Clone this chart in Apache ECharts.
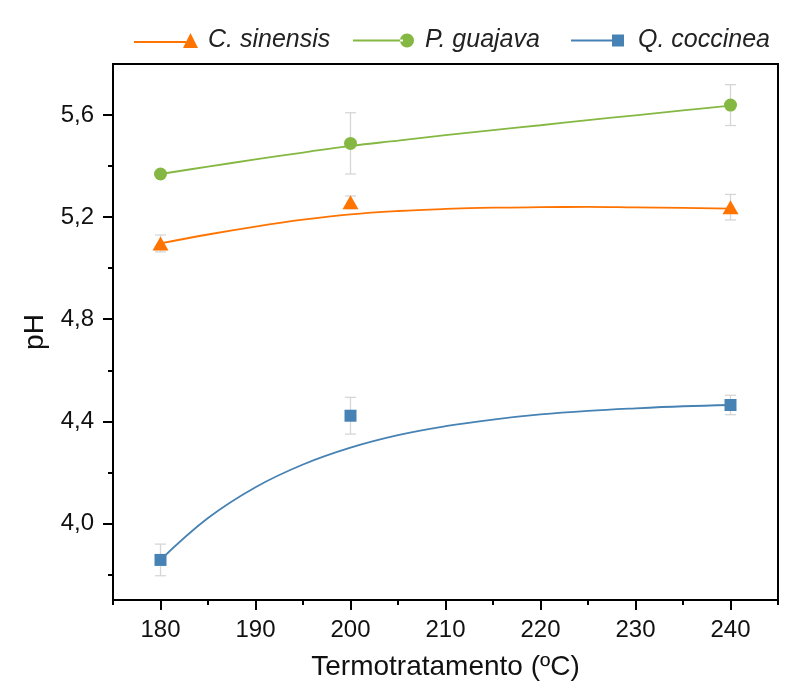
<!DOCTYPE html>
<html><head><meta charset="utf-8">
<script src="https://cdn.jsdelivr.net/npm/echarts@6/dist/echarts.min.js"></script>
<style>html,body{margin:0;padding:0;background:#fff}#c{width:791px;height:689px}</style>
</head><body><div id="c"></div>
<script>
// measured points
const temps = [180, 200, 240];
const sinensisPH = [5.097, 5.258, 5.239];
const sinensisErr = [0.033, 0.025, 0.05];
const guajavaPH = [5.369, 5.489, 5.639];
const guajavaErr = [0.008, 0.12, 0.08];
const coccineaPH = [3.857, 4.422, 4.464];
const coccineaErr = [0.062, 0.072, 0.038];
// fitted curves
const fitX = [180, 185, 190, 195, 200, 205, 210, 215, 220, 225, 230, 235, 240];
const sinensisFit = [5.097, 5.132, 5.163, 5.190, 5.211, 5.224, 5.232, 5.237, 5.239, 5.240, 5.238, 5.236, 5.233];
const guajavaFit = [5.369, 5.398, 5.426, 5.453, 5.479, 5.500, 5.521, 5.541, 5.560, 5.580, 5.599, 5.618, 5.637];
const coccineaFit = [3.857, 4.021, 4.142, 4.231, 4.297, 4.346, 4.381, 4.407, 4.427, 4.441, 4.451, 4.459, 4.464];
// ticks
const xMajorTicks = [180, 190, 200, 210, 220, 230, 240];
const xMinorTicks = [175, 185, 195, 205, 215, 225, 235, 245];
const yMajorTicks = [4.0, 4.4, 4.8, 5.2, 5.6];
const yMinorTicks = [3.8, 4.2, 4.6, 5.0, 5.4];
const names = ['C. sinensis', 'P. guajava', 'Q. coccinea'];
const colors = ['#ff7300', '#85b843', '#4682b4'];

const FONT = 'Liberation Sans, Arial, sans-serif';
const pair = (xs, ys) => xs.map((x, i) => [x, ys[i]]);
const triple = (xs, ys, es) => xs.map((x, i) => [x, ys[i], es[i]]);

function errRender(params, api) {
  const x = api.value(0), y = api.value(1), e = api.value(2);
  const t = api.coord([x, y + e]);
  const b = api.coord([x, y - e]);
  const hw = 5.5;
  const st = {stroke: '#d6d6d6', lineWidth: 1.3};
  return {type: 'group', children: [
    {type: 'line', shape: {x1: t[0], y1: t[1], x2: b[0], y2: b[1]}, style: st},
    {type: 'line', shape: {x1: t[0] - hw, y1: t[1], x2: t[0] + hw, y2: t[1]}, style: st},
    {type: 'line', shape: {x1: b[0] - hw, y1: b[1], x2: b[0] + hw, y2: b[1]}, style: st}
  ]};
}

const fits = [sinensisFit, guajavaFit, coccineaFit];
const pts = [sinensisPH, guajavaPH, coccineaPH];
const errs = [sinensisErr, guajavaErr, coccineaErr];
const symbols = ['triangle', 'circle', 'rect'];
const symSizes = [[16, 14], 13, 12];

const series = [];
for (let i = 0; i < 3; i++) {
  series.push({type: 'line', name: names[i], data: pair(fitX, fits[i]), smooth: 0.4, showSymbol: false,
    symbol: 'none', color: colors[i], lineStyle: {width: 1.8, color: colors[i]}, z: 3, silent: true});
}
for (let i = 0; i < 3; i++) {
  series.push({type: 'custom', name: 'err' + i, data: triple(temps, pts[i], errs[i]), renderItem: errRender, z: 2, silent: true});
}
for (let i = 0; i < 3; i++) {
  series.push({type: 'scatter', name: names[i], data: pair(temps, pts[i]), symbol: symbols[i], symbolSize: symSizes[i],
    itemStyle: {color: colors[i], opacity: 1}, color: colors[i], z: 5, silent: true});
}

const legTxt = {fontStyle: 'italic', fontSize: 25, fontFamily: FONT, color: '#222'};
const legends = [
  {left: 129, W: 64, H: 15, pad: 5, icon: 'path://M0,8L52,8L52,10L0,10Z M56.5,0L64,15L49,15Z'},
  {left: 348, W: 61, H: 14, pad: 6, icon: 'path://M0,6L50,6L50,8L0,8Z M47,7A7,7 0 1,0 61,7A7,7 0 1,0 47,7Z'},
  {left: 566, W: 53, H: 12, pad: 9, icon: 'path://M0,5L45,5L45,7L0,7Z M41,0L53,0L53,12L41,12Z'}
].map((l, i) => ({
  show: true, left: l.left, top: 23, orient: 'horizontal', itemWidth: l.W, itemHeight: l.H,
  data: [{name: names[i], icon: l.icon}], selectedMode: false,
  itemStyle: {borderWidth: 0, color: colors[i]},
  textStyle: Object.assign({padding: [0, 0, 0, l.pad]}, legTxt)
}));

const fmt = v => Number(v).toFixed(1).replace('.', ',');

const option = {
  animation: false,
  backgroundColor: '#fff',
  legend: legends,
  grid: {left: 113, right: 13, top: 64, bottom: 89, show: true, borderColor: '#000', borderWidth: 2, backgroundColor: 'transparent'},
  xAxis: [
    {type: 'value', min: 175, max: 245, position: 'bottom',
      name: 'Termotratamento (ºC)', nameLocation: 'middle', nameGap: 53,
      nameTextStyle: {fontSize: 28, fontFamily: FONT, color: '#111'},
      axisLine: {show: true, onZero: false, lineStyle: {color: '#000', width: 2}},
      axisTick: {show: true, inside: false, length: 10, customValues: xMajorTicks, lineStyle: {color: '#000', width: 2}},
      axisLabel: {show: true, customValues: xMajorTicks, margin: 18, fontSize: 24, fontFamily: FONT, color: '#111', formatter: v => String(v)},
      splitLine: {show: false}},
    {type: 'value', min: 175, max: 245, position: 'bottom', offset: 0,
      axisLine: {show: false, onZero: false},
      axisTick: {show: true, inside: false, length: 5, customValues: xMinorTicks, lineStyle: {color: '#000', width: 2}},
      axisLabel: {show: false}, splitLine: {show: false}}
  ],
  yAxis: [
    {type: 'value', min: 3.7, max: 5.8, position: 'left',
      name: 'pH', nameLocation: 'middle', nameGap: 60,
      nameTextStyle: {fontSize: 28, fontFamily: FONT, color: '#111'},
      axisLine: {show: true, onZero: false, lineStyle: {color: '#000', width: 2}},
      axisTick: {show: true, inside: false, length: 10, customValues: yMajorTicks, lineStyle: {color: '#000', width: 2}},
      axisLabel: {show: true, customValues: yMajorTicks, margin: 19, fontSize: 24, fontFamily: FONT, color: '#111', formatter: fmt},
      splitLine: {show: false}},
    {type: 'value', min: 3.7, max: 5.8, position: 'left', offset: 0,
      axisLine: {show: false, onZero: false},
      axisTick: {show: true, inside: false, length: 5, customValues: yMinorTicks, lineStyle: {color: '#000', width: 2}},
      axisLabel: {show: false}, splitLine: {show: false}}
  ],
  series: series
};

const chart = echarts.init(document.getElementById('c'), null, {renderer: 'canvas'});
chart.setOption(option);
</script>
</body></html>
